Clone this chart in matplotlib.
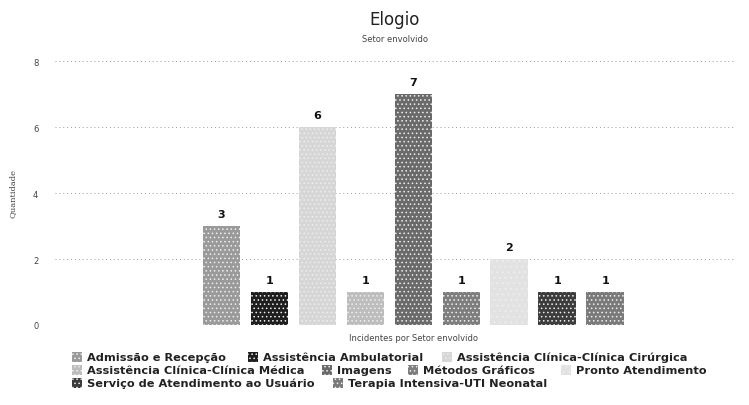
import matplotlib.pyplot as plt
from matplotlib.patches import Rectangle

# --- data ---
setores = [
    "Admissão e Recepção",
    "Assistência Ambulatorial",
    "Assistência Clínica-Clínica Cirúrgica",
    "Assistência Clínica-Clínica Médica",
    "Imagens",
    "Métodos Gráficos",
    "Pronto Atendimento",
    "Serviço de Atendimento ao Usuário",
    "Terapia Intensiva-UTI Neonatal",
]
quantidade = [3, 1, 6, 1, 7, 1, 2, 1, 1]
categoria = "Incidentes por Setor envolvido"
y_ticks = [0, 2, 4, 6, 8]

# greys (scanned print look)
cores = ["#9a9a9a", "#1e1e1e", "#d6d6d6", "#bdbdbd", "#6a6a6a",
         "#7e7e7e", "#e2e2e2", "#3c3c3c", "#7a7a7a"]
hatches = ["....", "....", "....", "....", "....", "....", "...", "....", "...."]
plt.rcParams["hatch.color"] = "#eeeeee"
plt.rcParams["hatch.linewidth"] = 0.6

W, H = 749, 406
fig = plt.figure(figsize=(W / 100, H / 100), dpi=100)
ax = fig.add_axes([55 / W, 1 - 326 / H, 680 / W, (326 - 62) / H])

xs = list(range(len(quantidade)))
for x, v, c, h in zip(xs, quantidade, cores, hatches):
    ax.bar(x, v, width=0.79, color=c, hatch=h, linewidth=0, zorder=3)
    ax.text(x, v + 0.22, str(v), ha="center", va="bottom",
            fontsize=8, fontweight="bold", color="#111111", zorder=4)

ax.set_xlim(-3.47, 10.7)
ax.set_ylim(0, 8)
ax.set_yticks(y_ticks)
ax.set_yticklabels([str(t) for t in y_ticks], fontsize=6, color="#444444")
ax.set_xticks([4])
ax.set_xticklabels([categoria], fontsize=6, color="#444444")
ax.tick_params(length=0, pad=12)
ax.tick_params(axis="x", pad=6)
ax.grid(axis="y", color="#9a9a9a", linestyle=(0, (1, 3)), linewidth=0.7, zorder=0)
for s in ax.spines.values():
    s.set_visible(False)
ax.set_ylabel("Quantidade", fontsize=6, color="#444444", family="DejaVu Serif",
              labelpad=12)

fig.text(395 / W, 1 - 20 / H, "Elogio", ha="center", va="center",
         fontsize=12, color="#222222")
fig.text(395 / W, 1 - 40 / H, "Setor envolvido", ha="center", va="center",
         fontsize=6, color="#444444")

# legend laid out in rows like the original
linhas = [[0, 1, 2], [3, 4, 5, 6], [7, 8]]
row_y = [358, 371, 384]
row_x = [[72, 248, 442], [72, 322, 408, 561], [72, 333]]
for linha, yy, xx in zip(linhas, row_y, row_x):
    for i, x0 in zip(linha, xx):
        fig.patches.append(Rectangle((x0 / W, 1 - (yy + 5) / H), 10 / W, 10 / H,
                                     transform=fig.transFigure, facecolor=cores[i],
                                     hatch=hatches[i], linewidth=0))
        fig.text((x0 + 15) / W, 1 - yy / H, setores[i], ha="left", va="center",
                 fontsize=8.2, fontweight="bold", color="#222222")

fig.savefig("out.png", dpi=100, facecolor="white")
